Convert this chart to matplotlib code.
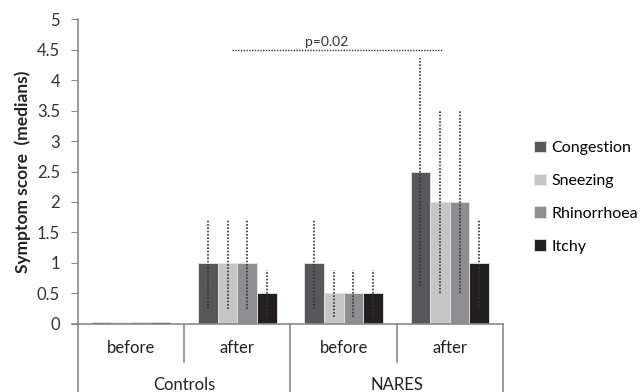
import matplotlib
matplotlib.use('Agg')
import matplotlib.pyplot as plt
import numpy as np

plt.rcParams['font.family'] = ['Lato', 'DejaVu Sans']

# data
groups = ['Controls', 'NARES']
timepoints = ['before', 'after', 'before', 'after']
symptoms = ['Congestion', 'Sneezing', 'Rhinorrhoea', 'Itchy']
colors = ['#58585a', '#c6c6c6', '#8e8e90', '#231f20']

congestion = [0.03, 1.0, 1.0, 2.5]
sneezing = [0.03, 1.0, 0.5, 2.0]
rhinorrhoea = [0.03, 1.0, 0.5, 2.0]
itchy = [0.03, 0.5, 0.5, 1.0]

# ranges (low, high) drawn as dotted whiskers; None = no whisker
congestion_rng = [None, (0.25, 1.72), (0.25, 1.72), (0.62, 4.36)]
sneezing_rng = [None, (0.25, 1.72), (0.12, 0.88), (0.5, 3.5)]
rhinorrhoea_rng = [None, (0.25, 1.72), (0.12, 0.88), (0.5, 3.5)]
itchy_rng = [None, (0.12, 0.88), (0.12, 0.88), (0.25, 1.72)]

p_text = 'p=0.02'
p_level = 4.5

values = [congestion, sneezing, rhinorrhoea, itchy]
ranges = [congestion_rng, sneezing_rng, rhinorrhoea_rng, itchy_rng]

fig = plt.figure(figsize=(6.43, 3.92), dpi=100)
ax = fig.add_axes([0.1213, 0.1735, 0.6609, 0.778])

axis_col = '#8a8a8a'
x = np.arange(len(timepoints))
width = 0.185

for i, (name, vals, rng, c) in enumerate(zip(symptoms, values, ranges, colors)):
    xs = x + (i - 1.5) * width
    ax.bar(xs, vals, width, color=c, edgecolor='#e6e6e6', linewidth=0.6, label=name, zorder=2)
    for xx, r in zip(xs, rng):
        if r is not None:
            ax.vlines(xx, r[0], r[1], colors='#333333', linestyles=(0, (1, 1)), linewidth=1.2, zorder=3)

# significance line
ax.hlines(p_level, 0.95, 2.93, colors='#333333', linestyles=(0, (1, 1)), linewidth=1.0, zorder=3)
ax.text(1.84, p_level + 0.03, p_text, ha='center', va='bottom', fontsize=10, color='#333333')

ax.set_xlim(-0.5, len(timepoints) - 0.5)
ax.set_ylim(0, 5)
ax.set_yticks(np.arange(0, 5.01, 0.5))
ax.set_yticklabels(['0', '0.5', '1', '1.5', '2', '2.5', '3', '3.5', '4', '4.5', '5'])
ax.tick_params(axis='y', colors=axis_col, labelcolor='#333333', labelsize=12, length=5,
               direction='out', pad=8)
ax.set_xticks([])

for s in ['top', 'right']:
    ax.spines[s].set_visible(False)
ax.spines['left'].set_color(axis_col)
ax.spines['bottom'].set_color(axis_col)
ax.spines['left'].set_linewidth(1.2)
ax.spines['bottom'].set_linewidth(1.2)

trans = ax.get_xaxis_transform()
# two-level x labels
for xi, lab in zip(x, timepoints):
    ax.text(xi, -0.078, lab, transform=trans, ha='center', va='center', fontsize=12, color='#222222')
for gi, g in enumerate(groups):
    ax.text(2 * gi + 0.5, -0.2, g, transform=trans, ha='center', va='center', fontsize=12, color='#222222')

# divider lines
ax.plot([-0.56, -0.5], [0, 0], transform=trans, color=axis_col, lw=1.2, clip_on=False)
for xd in [0.5, 2.5]:
    ax.plot([xd, xd], [0, -0.125], transform=trans, color=axis_col, lw=1.2, clip_on=False)
for xd in [-0.5, 1.5, 3.5]:
    ax.plot([xd, xd], [0, -0.23], transform=trans, color=axis_col, lw=1.2, clip_on=False)

ax.set_ylabel('Symptom score  (medians)', fontsize=12.5, fontweight='bold', color='#222222')
ax.yaxis.set_label_coords(-0.11, 0.5)

ax.legend(loc='center left', bbox_to_anchor=(1.04, 0.416), frameon=False, fontsize=11.5,
          handlelength=0.75, handleheight=0.75, handletextpad=0.3, labelspacing=1.15)

plt.savefig('out.png', dpi=100)
